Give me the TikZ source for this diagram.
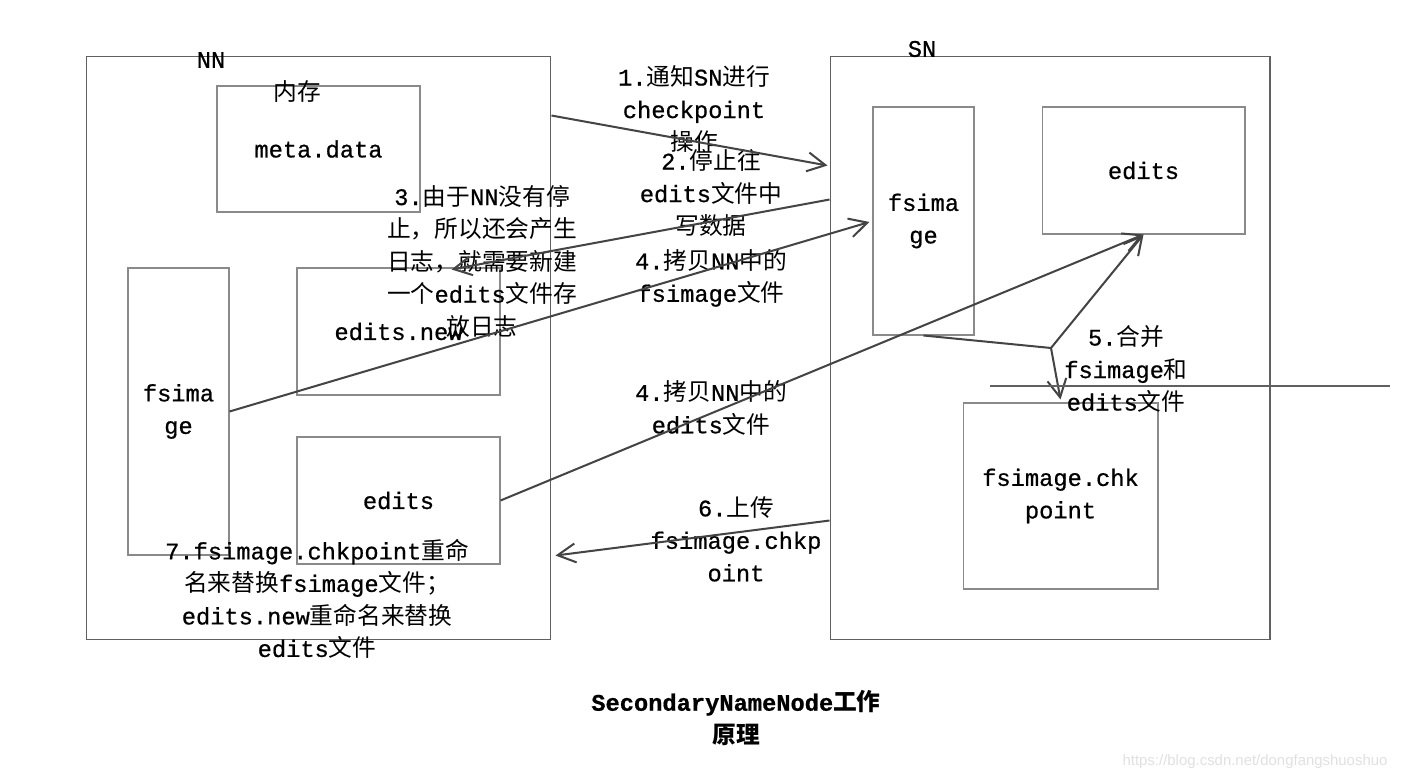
\documentclass[tikz,border=0pt]{standalone}
\usepackage{fontspec}
\setmainfont{Liberation Mono}[FakeBold=0.7]
\newfontfamily\cjk{Noto Sans CJK SC}
\newfontfamily\wmfont{Liberation Sans}
\newcommand{\zh}[1]{{\cjk #1}}
\usetikzlibrary{arrows.meta,calc}
\definecolor{boxgray}{HTML}{8A8A8A}
\definecolor{linegray}{HTML}{444444}
\definecolor{framegray}{HTML}{606060}

\tikzset{
  txt/.style={align=center,font=\fontsize{13.5}{18.5}\selectfont,inner sep=0pt},
  frame/.style={draw=framegray,line width=0.6pt,inner sep=0pt},
  box/.style={draw=boxgray,line width=0.6pt,inner sep=0pt,align=center,font=\fontsize{13.5}{18.5}\selectfont},
  flow/.style={draw=linegray,line width=1.15pt,-{Straight Barb[length=3.6mm,width=3.8mm]}},
}

\begin{document}
\begin{tikzpicture}[x=0.02cm,y=-0.02cm]
  \useasboundingbox (0,0) rectangle (1406,780);
  % the two machines
  \node[frame,minimum width=9.3cm,minimum height=11.68cm] (nn) at (318.5,348) {};
  \node[frame,minimum width=8.8cm,minimum height=11.68cm] (sn) at (1050,348) {};
  \node[txt] (nnname) at (211,60) {NN};
  \node[txt] (snname) at (922,49) {SN};
  % NN side
  \node[box,minimum width=4.06cm,minimum height=2.52cm] (meta) at (318.5,149) {meta.data};
  \node[txt] (mem) at (297,92) {\zh{内存}};
  \node[box,minimum width=2.02cm,minimum height=5.74cm] (nnfs) at (178.5,411.5) {fsima\\ge};
  \node[box,minimum width=4.06cm,minimum height=2.54cm] (ednew) at (398.5,331.5) {edits.new};
  \node[box,minimum width=4.06cm,minimum height=2.54cm] (nned) at (398.5,500.5) {edits};
  % SN side
  \node[box,minimum width=2.02cm,minimum height=4.56cm] (snfs) at (923.5,221) {fsima\\ge};
  \node[box,minimum width=4.06cm,minimum height=2.54cm] (sned) at (1143.5,170.5) {edits};
  \node[box,minimum width=3.9cm,minimum height=3.72cm] (chk) at (1060.5,496) {fsimage.chk\\point};
  % step labels
  \node[txt] (s1) at (694,109) {1.\zh{通知}SN\zh{进行}\\checkpoint\\\zh{操作}};
  \node[txt] (s2) at (711,193) {2.\zh{停止往}\\edits\zh{文件中}\\\zh{写数据}};
  \node[txt] (s3) at (482,261) {3.\zh{由于}NN\zh{没有停}\\\zh{止，所以还会产生}\\\zh{日志，就需要新建}\\\zh{一个}edits\zh{文件存}\\\zh{放日志}};
  \node[txt] (s4a) at (711,278) {4.\zh{拷贝}NN\zh{中的}\\fsimage\zh{文件}};
  \node[txt] (s4b) at (711,408) {4.\zh{拷贝}NN\zh{中的}\\edits\zh{文件}};
  \node[txt] (s5) at (1126,369) {5.\zh{合并}\\fsimage\zh{和}\\edits\zh{文件}};
  \node[txt] (s6) at (736,539) {6.\zh{上传}\\fsimage.chkp\\oint};
  \node[txt] (s7) at (317,599) {7.fsimage.chkpoint\zh{重命}\\\zh{名来替换}fsimage\zh{文件；}\\edits.new\zh{重命名来替换}\\edits\zh{文件}};
  \node[txt,font=\fontsize{13.5}{18.5}\selectfont\bfseries] (title) at (736,718) {SecondaryNameNode\zh{工作}\\\zh{原理}};
  \node[txt,font=\fontsize{8.5}{10}\selectfont\wmfont,text=black!12] (mark) at (1255,762) {https://blog.csdn.net/dongfangshuoshuo};
  % arrows
  \draw[flow] ($(nn.north east)+(0,60)$) -- ($(sn.north west)+(-2,110)$);
  \draw[flow] ($(sn.north west)+(0,144)$) -- ($(ednew.north)+(53,2)$);
  \draw[flow] (nnfs.east) -- ($(snfs.west)+(-3,1)$);
  \draw[flow] (nned.east) -- (sned.south);
  \coordinate (merge) at (1051,348);
  \draw[flow,-] (snfs.south) -- (merge);
  \draw[flow] (merge) -- (sned.south);
  \draw[flow] (merge) -- ($(chk.north)+(0,-3)$);
  \draw[flow] ($(sn.north west)+(0,465)$) -- ($(nn.north east)+(4,500)$);
  \coordinate (cutl) at (990,386);
  \coordinate (cutr) at (1390,386);
  \draw[framegray,line width=0.6pt] (cutl) -- (cutr);
\end{tikzpicture}
\end{document}
